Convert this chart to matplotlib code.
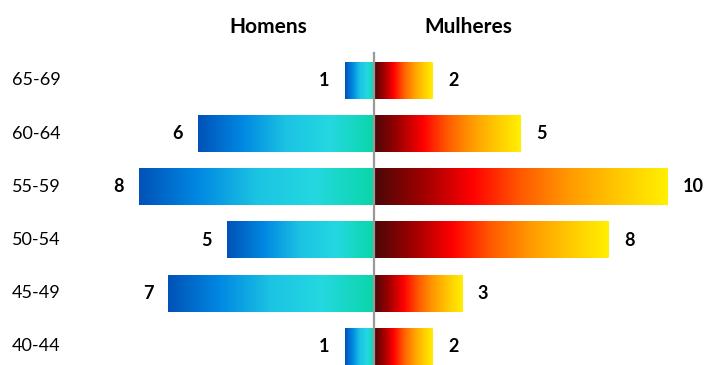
import numpy as np
import matplotlib
matplotlib.use("Agg")
from matplotlib import pyplot as plt
from matplotlib.colors import LinearSegmentedColormap

plt.rcParams['font.family'] = ['Lato', 'DejaVu Sans']

# Age groups, top to bottom
age_groups = ["65-69", "60-64", "55-59", "50-54", "45-49", "40-44"]
homens = [1, 6, 8, 5, 7, 1]
mulheres = [2, 5, 10, 8, 3, 2]

# Gradients along each bar (left to right)
cmap_homens = LinearSegmentedColormap.from_list(
    "homens", ["#0052b8", "#0088e2", "#1cc3e3", "#24d8e0", "#0ad6a8"])
cmap_mulheres = LinearSegmentedColormap.from_list(
    "mulheres", ["#4a0808", "#a00000", "#ff0000", "#ff5a00", "#ff9a00", "#ffc800", "#fff000"])

fig = plt.figure(figsize=(7.05, 3.65), dpi=100)
ax = fig.add_axes([0, 0, 1, 1])
ax.axis('off')

bar_h = 0.69
grad = np.linspace(0, 1, 256).reshape(1, -1)

for i, (age, h, m) in enumerate(zip(age_groups, homens, mulheres)):
    top, bottom = i - bar_h / 2, i + bar_h / 2
    ax.imshow(grad, cmap=cmap_homens, aspect='auto', interpolation='bilinear',
              extent=(-h, 0, bottom, top), zorder=2)
    ax.imshow(grad, cmap=cmap_mulheres, aspect='auto', interpolation='bilinear',
              extent=(0, m, bottom, top), zorder=2)
    ax.annotate(str(h), (-h, i), xytext=(-11, 0), textcoords='offset points',
                ha='right', va='center', fontsize=13, fontweight='bold')
    ax.annotate(str(m), (m, i), xytext=(11, 0), textcoords='offset points',
                ha='left', va='center', fontsize=13, fontweight='bold')
    ax.text(-12.33, i, age, ha='left', va='center', fontsize=13)

# Central axis line
ax.plot([0, 0], [-0.52, 5.4], color='#999999', lw=1.6, zorder=3)

ax.text(-3.6, -1.0, "Homens", ha='center', va='center', fontsize=15, fontweight='bold')
ax.text(3.2, -1.0, "Mulheres", ha='center', va='center', fontsize=15, fontweight='bold')

ax.set_xlim(-12.74, 11.28)
ax.set_ylim(5.348, -1.513)

fig.savefig("out.png", dpi=100)
